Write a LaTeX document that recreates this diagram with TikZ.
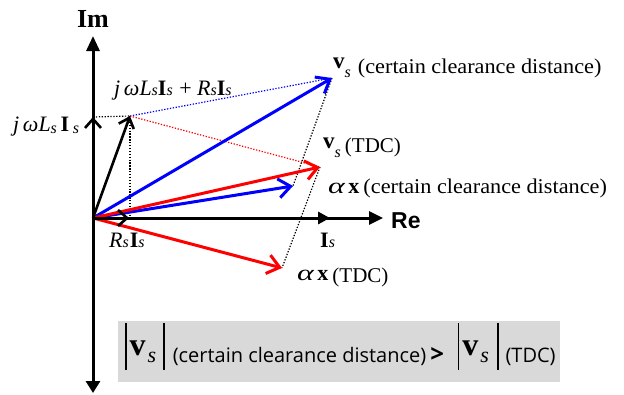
\documentclass[tikz,border=0pt]{standalone}
\usepackage{fontspec}
\usepackage{graphicx}
\setmainfont{Liberation Serif}
\newfontfamily\osans{Open Sans}
\newfontfamily\lsans{Liberation Sans}
\usetikzlibrary{arrows.meta}
\definecolor{boxgray}{RGB}{217,217,217}
\newcommand\lblf{\fontsize{22}{24}\selectfont}
\newcommand\txtf{\fontsize{21}{24}\selectfont}
\newcommand\sbs[2][0pt]{\raisebox{#1}{\fontsize{16}{16}\selectfont\textit{#2}}}
\newcommand\bigv{\raisebox{0pt}{\fontsize{23}{23}\selectfont\textbf{v}}}
\newcommand\boxv{\raisebox{7pt}{\fontsize{32}{32}\selectfont\textbf{v}}\hspace{2pt}{\fontsize{22}{22}\selectfont\textit{s}}}
\newcommand\boxbar{\rule[-8pt]{1.5pt}{47pt}}
\begin{document}
\begin{tikzpicture}[x=1pt,y=-1pt,
  axisline/.style={line width=3pt},
  tri/.style={-{Triangle[length=14pt,width=13pt]}},
  vecline/.style={line width=3pt,-{Straight Barb[length=12pt,width=19pt]}},
  smallvec/.style={line width=2.6pt,-{Straight Barb[length=9pt,width=16pt]}},
  dotline/.style={line width=1.2pt,dash pattern=on 1.3pt off 1.6pt},
  lbl/.style={anchor=base west,inner sep=0pt,font=\lblf},
  every node/.style={inner sep=0pt}]
\useasboundingbox (0,0) rectangle (624,394);
% points
\coordinate (O) at (93,218);
\coordinate (Imtop) at (93,36);
\coordinate (Imbot) at (93,393);
\coordinate (Retip) at (383,218);
\coordinate (Is) at (330,218);
\coordinate (RI) at (129,218);
\coordinate (JL) at (93,117);
\coordinate (Z) at (130,116);
\coordinate (V1) at (332,78);
\coordinate (X1) at (293,186);
\coordinate (V2) at (320,167);
\coordinate (X2) at (282,268);
% box
\fill[boxgray] (118,321) rectangle (560,382);
% dotted helpers
\draw[dotline,black] (JL) -- (Z);
\draw[dotline,black] (Z) -- (Z |- O);
\draw[dotline,blue] (Z) -- (V1);
\draw[dotline,red] (Z) -- (V2);
\draw[dotline,black] (V1) -- (X1);
\draw[dotline,black] (V2) -- (X2);
% colored vectors
\draw[vecline,blue] (O) -- (V1);
\draw[vecline,blue] (O) -- (X1);
\draw[vecline,red] (O) -- (V2);
\draw[vecline,red] (O) -- (X2);
% axes
\draw[axisline,{Triangle[length=12pt,width=14pt]}-{Triangle[length=15pt,width=13pt]}] (Imbot) -- (Imtop);
\draw[axisline,tri] (O) -- (Retip);
\draw[axisline,-{Triangle[length=12pt,width=12pt]}] (O) -- (Is);
\draw[smallvec] (O) -- (Z);
\draw[smallvec] (O) -- (JL);
\draw[smallvec] (O) -- (RI);
% axis labels
\node[anchor=base] (im) at (93,27) {\fontsize{26}{26}\selectfont\textbf{Im}};
\node[anchor=base west] (re) at (391,228) {\fontsize{23}{23}\selectfont\lsans\bfseries Re};
% labels
\node[lbl] (lsum) at (114,95) {\textit{j}\,\textit{ω}\textit{L}\sbs{s}\textbf{I}\sbs{s}\hspace{1pt} + \textit{R}\sbs{s}\textbf{I}\sbs{s}};
\node[lbl] (ljl) at (13,131) {\textit{j}\,\textit{ω}\textit{L}\sbs[-2pt]{s}\,\textbf{I}\,\sbs[-2pt]{s}};
\node[lbl] (lv1) at (333,73) {\raisebox{5pt}{\bigv}\raisebox{-4pt}{\fontsize{16}{16}\selectfont\textit{s}}\hspace{7pt}{\txtf\scalebox{1.06}[1]{(certain clearance distance)}}};
\node[lbl] (lv2) at (323,152) {\raisebox{4pt}{\bigv}\raisebox{-5pt}{\fontsize{16}{16}\selectfont\textit{s}}\hspace{4pt}{\txtf(TDC)}};
\node[lbl] (lx1) at (328,193) {\scalebox{1.45}[1]{\textit{α}}\hspace{3pt}\textbf{x}\hspace{4pt}{\txtf\scalebox{1.06}[1]{(certain clearance distance)}}};
\node[lbl] (lx2) at (297,282) {\raisebox{2pt}{\scalebox{1.45}[1]{\textit{α}}\hspace{3pt}\textbf{x}}\hspace{4pt}{\txtf(TDC)}};
\node[lbl] (lri) at (109,247) {\textit{R}\sbs{s}\hspace{1pt}\textbf{I}\sbs{s}};
\node[lbl] (lis) at (320,247) {\textbf{I}\sbs{s}};
% comparison formula
\node[anchor=base west] (cmp) at (125,362) {%
\boxbar\hspace{3pt}\boxv\hspace{7pt}\boxbar\hspace{8pt}%
{\osans\fontsize{20}{20}\selectfont (certain clearance distance)}\hspace{4pt}%
{\osans\fontsize{24}{24}\selectfont\bfseries >}\hspace{14pt}%
\boxbar\hspace{3pt}\boxv\hspace{8pt}\boxbar\hspace{7pt}%
{\osans\fontsize{20}{20}\selectfont (TDC)}};
\end{tikzpicture}
\end{document}
